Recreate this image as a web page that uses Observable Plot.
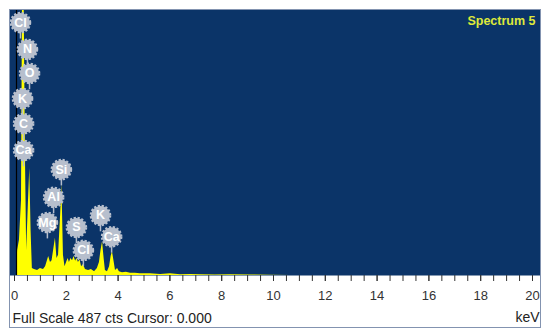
<!DOCTYPE html>
<html>
<head>
<meta charset="utf-8">
<script src="https://cdn.jsdelivr.net/npm/d3@7"></script>
<script src="https://cdn.jsdelivr.net/npm/@observablehq/plot@0.6"></script>
<style>
  html, body { margin: 0; padding: 0; background: #ffffff; }
  #wrap { position: relative; width: 550px; height: 335px; font-family: "Liberation Sans", Arial, sans-serif; }
  #border { position: absolute; left: 9px; top: 9px; width: 530px; height: 317px; border: 1px solid #8393b0; pointer-events: none; }
</style>
</head>
<body>
<div id="wrap"><div id="border"></div></div>
<script>
// Spectrum (keV, counts)
const energyKeV = [0, 0.08, 0.12, 0.19, 0.27, 0.31, 0.37, 0.42, 0.47, 0.54, 0.59, 0.64, 0.69, 0.77, 0.89, 1.00, 1.12, 1.20, 1.25, 1.32, 1.39, 1.45, 1.51, 1.58, 1.64, 1.70, 1.78, 1.83, 1.89, 1.95, 2.01, 2.07, 2.12, 2.18, 2.24, 2.30, 2.36, 2.41, 2.47, 2.53, 2.59, 2.66, 2.74, 2.86, 2.97, 3.09, 3.20, 3.28, 3.34, 3.40, 3.46, 3.51, 3.59, 3.67, 3.73, 3.78, 3.84, 3.90, 3.98, 4.05, 4.17, 4.32, 4.48, 4.67, 4.86, 5.25, 5.64, 6.02, 6.41, 6.80, 7.18, 7.76, 8.34, 9.11, 9.88, 10.66, 20];
const countsCts = [0, 0, 46, 64, 137, 520, 520, 229, 46, 137, 196, 82, 13, 11, 9, 13, 11, 16, 24, 35, 24, 27, 46, 68, 31, 37, 110, 168, 37, 16, 24, 31, 24, 31, 27, 35, 26, 31, 24, 29, 16, 20, 11, 9, 11, 7, 13, 24, 46, 62, 31, 9, 7, 16, 35, 44, 27, 9, 13, 7, 5, 6, 4, 4, 3, 3, 2, 3, 1.5, 2, 1.5, 1, 1.5, 1, 0.5, 0, 0];

// Element labels: name, energy (keV), label height (counts)
const labelNames = ["Cl", "N", "O", "K", "C", "Ca", "Si", "Al", "Mg", "S", "Cl", "K", "Ca"];
const labelKeV = [0.23, 0.50, 0.58, 0.31, 0.35, 0.35, 1.81, 1.51, 1.27, 2.39, 2.66, 3.32, 3.75];
const labelCts = [463, 414, 370, 324, 278, 229, 194, 143, 97, 88, 46, 110, 71];

const minorTicks = d3.range(0, 20.001, 0.5);
const majorTicks = [0, 2, 4, 6, 8, 10, 12, 14, 16, 18, 20];
const fullScale = 487;
const cursorKeV = 0;
const titleText = ["Spectrum 5"];
const footerText = ["Full Scale 487 cts Cursor: 0.000"];
const unitText = ["keV"];

const spectrum = energyKeV.map((e, i) => ({e, c: countsCts[i]}));
const labels = labelNames.map((n, i) => ({n, e: labelKeV[i], c: labelCts[i]}));

const chart = Plot.plot({
  width: 550,
  height: 335,
  marginTop: 9,
  marginBottom: 60,
  marginLeft: 9,
  marginRight: 10,
  style: {fontFamily: "'Liberation Sans', Arial, sans-serif", color: "#333", background: "transparent"},
  x: {domain: [0, 20], range: [14, 532], label: null},
  y: {domain: [0, fullScale], range: [275, 9], axis: null},
  marks: [
    Plot.frame({fill: "#0b3468", stroke: null}),
    Plot.areaY(spectrum, {x: "e", y: "c", fill: "#ffff00", curve: "linear", clip: true}),
    Plot.ruleX([cursorKeV], {stroke: "#000000", strokeWidth: 1.2, dx: 2}),
    Plot.ruleX(labels, {x: "e", y1: d => d.c, y2: d => d.c - 30, stroke: "#b4bccb", strokeWidth: 1.5}),
    Plot.dot(labels, {x: "e", y: "c", r: 9.5, fill: "#b7bfcd", stroke: "#b7bfcd", strokeWidth: 2.6, strokeDasharray: "2.2 1.6"}),
    Plot.text(labels, {x: "e", y: "c", text: "n", fill: "#ffffff", fontSize: 12.5, fontWeight: "bold", lineAnchor: "middle"}),
    Plot.text(titleText, {frameAnchor: "top-right", dx: -5, dy: 11, textAnchor: "end", fill: "#dfe93a", fontSize: 12.5, fontWeight: "bold", lineAnchor: "middle"}),
    Plot.axisX({ticks: minorTicks, tickSize: 6, tickFormat: () => "", stroke: "#333", label: null}),
    Plot.axisX({ticks: majorTicks, tickSize: 6, tickPadding: 9, fontSize: 13, fill: "#333", stroke: "#333", tickFormat: d => String(d), label: null}),
    Plot.text(footerText, {frameAnchor: "bottom-left", dx: 3, dy: 43, textAnchor: "start", lineAnchor: "middle", fontSize: 14, fill: "#222"}),
    Plot.text(unitText, {frameAnchor: "bottom-right", dx: -1, dy: 42, textAnchor: "end", lineAnchor: "middle", fontSize: 14, fill: "#222"})
  ]
});
document.getElementById("wrap").prepend(chart);
</script>
</body>
</html>
